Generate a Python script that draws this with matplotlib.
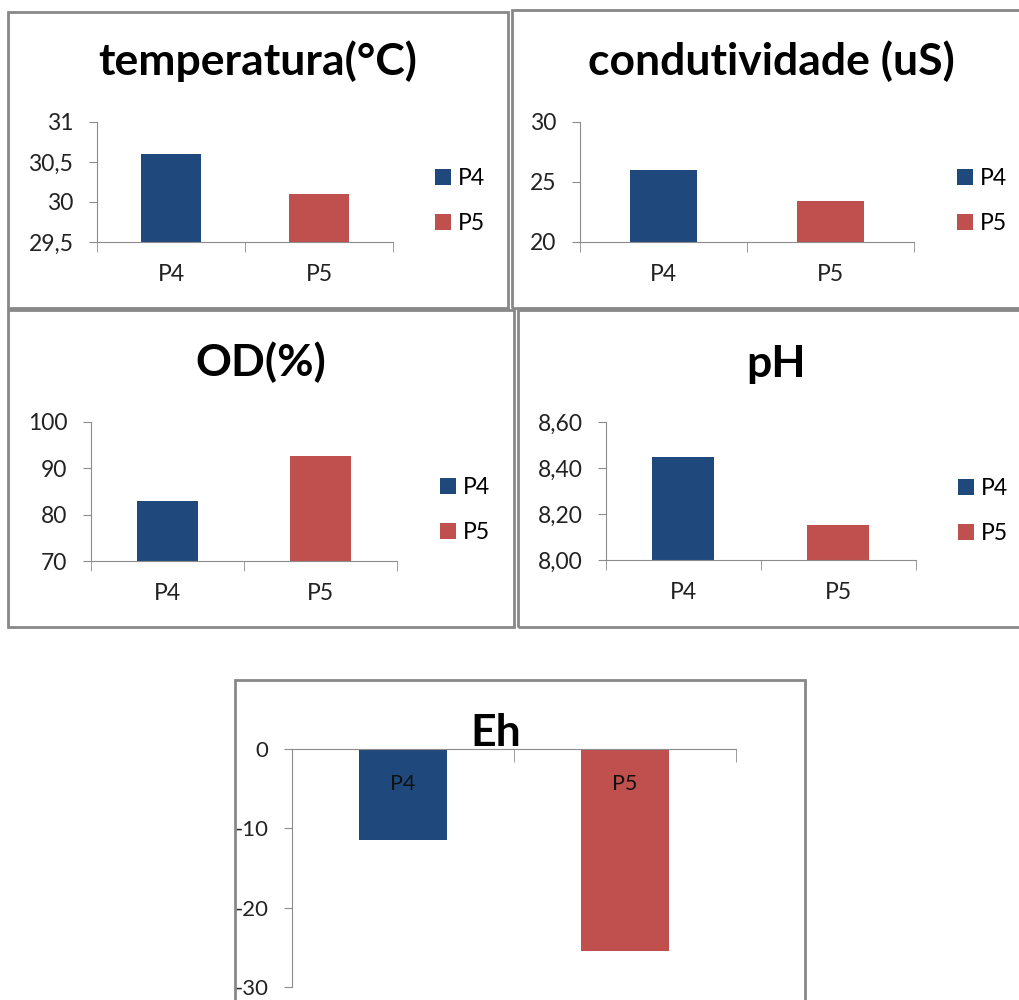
import matplotlib
matplotlib.use("Agg")
import matplotlib.pyplot as plt
from matplotlib.patches import Rectangle
from matplotlib.ticker import FuncFormatter

# Dados
categorias = ["P4", "P5"]
temperatura = [30.6, 30.1]
condutividade = [26.0, 23.4]
od = [83.0, 92.7]
ph = [8.45, 8.15]
eh = [-11.5, -25.5]

cores = ["#1F497D", "#C0504D"]
cinza = "#8C8C8C"
fonte = "Lato"
tam_tick = 16.5
tam_tit = 32

W, H = 1020, 1000
fig = plt.figure(figsize=(W / 100, H / 100), dpi=100)
plt.rcParams["font.family"] = [fonte, "DejaVu Sans"]
plt.rcParams["axes.unicode_minus"] = False


def caixa(x0, y0, x1, y1):
    # moldura em pixels (origem no topo)
    r = Rectangle((x0 / W, 1 - y1 / H), (x1 - x0) / W, (y1 - y0) / H,
                  transform=fig.transFigure, fill=False, edgecolor="#888888", lw=2)
    fig.add_artist(r)


def eixo(x0, x1, y0, y1):
    return fig.add_axes([x0 / W, 1 - y1 / H, (x1 - x0) / W, (y1 - y0) / H])


def virgula(fmt):
    return FuncFormatter(lambda v, p: (fmt % v).replace(".", ","))


def painel(pos, valores, ylim, yticks, fmt, titulo, tpos, leg):
    ax = eixo(*pos)
    for i, (c, v) in enumerate(zip(categorias, valores)):
        ax.bar(i, v, width=0.4, color=cores[i], label=c, zorder=2)
    ax.set_xlim(-0.5, 1.5)
    ax.set_ylim(*ylim)
    ax.set_yticks(yticks)
    ax.yaxis.set_major_formatter(virgula(fmt))
    ax.set_xticks(range(len(categorias)))
    ax.set_xticklabels(categorias)
    ax.set_xticks([-0.5, 0.5, 1.5], minor=True)
    for s in ["top", "right"]:
        ax.spines[s].set_visible(False)
    for s in ["left", "bottom"]:
        ax.spines[s].set_color(cinza)
    ax.tick_params(axis="y", length=6, color=cinza, labelsize=tam_tick, labelcolor="#222222", pad=11)
    ax.tick_params(axis="x", which="major", length=0, labelsize=tam_tick, labelcolor="#222222", pad=16)
    ax.tick_params(axis="x", which="minor", length=7, color=cinza)
    fig.text(tpos[0] / W, 1 - tpos[1] / H, titulo, ha="center", va="baseline",
             fontsize=tam_tit, fontweight="bold")
    ax.legend(loc="center left", bbox_to_anchor=(leg[0] / W, 1 - leg[1] / H),
              bbox_transform=fig.transFigure, frameon=False, fontsize=tam_tick,
              handlelength=0.7, handleheight=0.7, handletextpad=0.3,
              labelspacing=1.05, borderpad=0, borderaxespad=0)
    return ax


# molduras
caixa(8, 12, 508, 308)
caixa(512, 10, 1030, 308)
caixa(8, 310, 514, 627)
caixa(518, 310, 1030, 627)
caixa(235, 680, 805, 1020)

painel((97, 393, 122, 242), temperatura, (29.5, 31), [29.5, 30, 30.5, 31], "%g",
       "temperatura(°C)", (258, 75), (435, 201))
painel((580, 914, 122, 242), condutividade, (20, 30), [20, 25, 30], "%g",
       "condutividade (uS)", (771, 75), (957, 201))
painel((91, 397, 422, 561), od, (70, 100), [70, 80, 90, 100], "%g",
       "OD(%)", (261, 376), (440, 510))
painel((606, 916, 422, 560), ph, (8.0, 8.6), [8.0, 8.2, 8.4, 8.6], "%.2f",
       "pH", (776, 377), (958, 511))

# Eh: barras negativas, eixo das categorias no zero (topo)
ax = eixo(292, 736, 749, 987)
for i, (c, v) in enumerate(zip(categorias, eh)):
    ax.bar(i, v, width=0.4, color=cores[i], zorder=2)
    ax.annotate(c, (i, 0), xytext=(0, -25), textcoords="offset points",
                ha="center", va="center", fontsize=15.5, color="#111111")
ax.set_xlim(-0.5, 1.5)
ax.set_ylim(-30, 0)
ax.set_yticks([-30, -20, -10, 0])
ax.set_xticks([])
ax.set_xticks([-0.5, 0.5, 1.5], minor=True)
ax.xaxis.set_ticks_position("top")
for s in ["bottom", "right"]:
    ax.spines[s].set_visible(False)
for s in ["left", "top"]:
    ax.spines[s].set_color(cinza)
ax.tick_params(axis="y", length=6, color=cinza, labelsize=16, labelcolor="#222222", pad=11)
ax.tick_params(axis="x", which="minor", length=9, direction="in", color=cinza)
fig.text(496 / W, 1 - 746 / H, "Eh", ha="center", va="baseline",
         fontsize=tam_tit, fontweight="bold")

fig.savefig("out.png", dpi=100)
